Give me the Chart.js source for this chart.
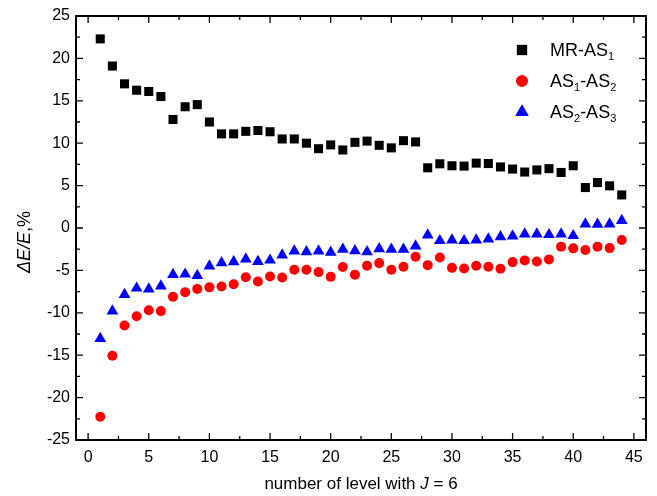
<!DOCTYPE html>
<html>
<head>
<meta charset="utf-8">
<script src="https://cdn.jsdelivr.net/npm/chart.js@4/dist/chart.umd.min.js"></script>
<style>
  html, body { margin: 0; padding: 0; background: #fff; }
  #wrap { width: 657px; height: 496px; }
</style>
</head>
<body>
<div id="wrap"><canvas id="deviation" width="657" height="496"></canvas></div>
<script>
// data ---------------------------------------------------------------------------
const levels = [1,2,3,4,5,6,7,8,9,10,11,12,13,14,15,16,17,18,19,20,21,22,
                23,24,25,26,27,28,29,30,31,32,33,34,35,36,37,38,39,40,41,42,43,44];
const mrAs1 = [22.3,19.1,17.0,16.25,16.1,15.5,12.8,14.3,14.55,12.5,
               11.1,11.1,11.4,11.5,11.35,10.5,10.5,10.0,9.35,9.8,
               9.2,10.1,10.25,9.75,9.45,10.3,10.15,7.1,7.57,7.34,
               7.3,7.65,7.6,7.2,6.95,6.6,6.85,7.0,6.55,7.34,
               4.77,5.36,4.97,3.9];
const as1As2 = [-22.25,-15.07,-11.5,-10.4,-9.7,-9.8,-8.1,-7.57,-7.18,-7.0,
                -6.9,-6.63,-5.8,-6.3,-5.72,-5.84,-4.93,-4.93,-5.2,-5.76,
                -4.6,-5.5,-4.46,-4.14,-4.93,-4.58,-3.39,-4.38,-3.47,-4.7,
                -4.77,-4.46,-4.58,-4.8,-4.02,-3.82,-3.94,-3.7,-2.2,-2.4,
                -2.6,-2.2,-2.37,-1.42];
const as2As3 = [-13.05,-9.8,-7.85,-7.1,-7.2,-6.86,-5.5,-5.45,-5.6,-4.5,
                -4.1,-4.0,-3.67,-3.95,-3.8,-3.2,-2.72,-2.8,-2.72,-2.88,
                -2.52,-2.68,-2.8,-2.45,-2.52,-2.52,-2.13,-0.83,-1.5,-1.42,
                -1.5,-1.42,-1.3,-1.03,-0.95,-0.71,-0.71,-0.79,-0.71,-0.91,
                0.47,0.43,0.47,0.87];
const seriesLabels = ['MR-AS_1', 'AS_1-AS_2', 'AS_2-AS_3'];
const xTicks = [0,5,10,15,20,25,30,35,40,45];
const yTicks = [-25,-20,-15,-10,-5,0,5,10,15,20,25];

const FONT = "'Liberation Sans', Arial, sans-serif";

function toPoints(ys) {
    return levels.map((x, i) => ({ x: x, y: ys[i] }));
}

// text with _n subscripts
function drawSubText(ctx, text, x, y, size) {
    const parts = text.split(/_(\d)/);
    let cx = x;
    parts.forEach((p, i) => {
        if (p === '') return;
        const sub = i % 2 === 1;
        ctx.font = (sub ? Math.round(size * 0.62) : size) + 'px ' + FONT;
        ctx.fillText(p, cx, sub ? y + size * 0.32 : y);
        cx += ctx.measureText(p).width;
    });
}

// frame, inward ticks, titles and legend
const framePlugin = {
    id: 'frame',
    afterDraw(chart) {
        const { ctx, chartArea: { left, right, top, bottom } } = chart;
        const xs = chart.scales.x, ys = chart.scales.y;
        ctx.save();
        ctx.strokeStyle = '#000';
        ctx.lineWidth = 2;
        ctx.strokeRect(left, top, right - left, bottom - top);
        ctx.lineWidth = 1.3;
        ctx.beginPath();
        for (let v = 0; v <= 45; v += 2.5) {
            const px = xs.getPixelForValue(v);
            const len = v % 5 === 0 ? 7 : 4;
            ctx.moveTo(px, bottom); ctx.lineTo(px, bottom - len);
            ctx.moveTo(px, top); ctx.lineTo(px, top + len);
        }
        for (let v = -25; v <= 25; v += 2.5) {
            const py = ys.getPixelForValue(v);
            const len = v % 5 === 0 ? 7 : 4;
            ctx.moveTo(left, py); ctx.lineTo(left + len, py);
            ctx.moveTo(right, py); ctx.lineTo(right - len, py);
        }
        ctx.stroke();

        // y title
        ctx.fillStyle = '#000';
        ctx.textBaseline = 'alphabetic';
        ctx.translate(30, (top + bottom) / 2 + 14);
        ctx.rotate(-Math.PI / 2);
        ctx.font = 'italic 18px ' + FONT;
        const it = '\u0394E/E';
        const wIt = ctx.measureText(it).width;
        ctx.font = '18px ' + FONT;
        const wR = ctx.measureText(',%').width;
        let sx = -(wIt + wR) / 2;
        ctx.font = 'italic 18px ' + FONT;
        ctx.fillText(it, sx, 0);
        ctx.font = '18px ' + FONT;
        ctx.fillText(',%', sx + wIt, 0);
        ctx.setTransform(1, 0, 0, 1, 0, 0);

        // x title
        const segs = [['number of level with ', ''], ['J', 'italic '], [' = 6', '']];
        let total = 0;
        segs.forEach(s => { ctx.font = s[1] + '17px ' + FONT; total += ctx.measureText(s[0]).width; });
        let tx = (left + right) / 2 - total / 2;
        segs.forEach(s => {
            ctx.font = s[1] + '17px ' + FONT;
            ctx.fillText(s[0], tx, 489);
            tx += ctx.measureText(s[0]).width;
        });

        // legend
        chart.data.datasets.forEach((ds, i) => {
            const ly = top + 34 + i * 31;
            const lx = right - 124;
            ctx.fillStyle = ds.backgroundColor;
            Chart.helpers.drawPoint(ctx, {
                pointStyle: ds.pointStyle, radius: ds.pointRadius + 0.8, rotation: 0, borderWidth: 0
            }, lx, ly);
            ctx.fill();
            ctx.fillStyle = '#000';
            ctx.textBaseline = 'middle';
            drawSubText(ctx, ds.label, lx + 28, ly + 1, 18);
        });
        ctx.restore();
    }
};

const deviationChart = new Chart(document.getElementById('deviation'), {
    type: 'scatter',
    data: {
        datasets: [
            { label: seriesLabels[0], data: toPoints(mrAs1), pointStyle: 'rect',
              backgroundColor: '#000000', borderColor: '#000000', borderWidth: 0, pointRadius: 6.4 },
            { label: seriesLabels[1], data: toPoints(as1As2), pointStyle: 'circle',
              backgroundColor: '#ff0000', borderColor: '#ff0000', borderWidth: 0, pointRadius: 5 },
            { label: seriesLabels[2], data: toPoints(as2As3), pointStyle: 'triangle',
              backgroundColor: '#0000ff', borderColor: '#0000ff', borderWidth: 0, pointRadius: 6.8 }
        ]
    },
    options: {
        responsive: false,
        animation: false,
        layout: { padding: { left: 0, right: 11, top: 16, bottom: 0 } },
        plugins: { legend: { display: false }, tooltip: { enabled: false } },
        scales: {
            x: {
                type: 'linear', min: -1, max: 46,
                afterBuildTicks: s => { s.ticks = xTicks.map(v => ({ value: v })); },
                afterFit: s => { s.height = 56; },
                grid: { display: false, drawTicks: false },
                border: { display: false },
                ticks: { color: '#000', padding: 8, font: { family: FONT, size: 16 }, maxRotation: 0 }
            },
            y: {
                type: 'linear', min: -25, max: 25,
                afterBuildTicks: s => { s.ticks = yTicks.map(v => ({ value: v })); },
                afterFit: s => { s.width = 76; },
                grid: { display: false, drawTicks: false },
                border: { display: false },
                ticks: { color: '#000', padding: 6, font: { family: FONT, size: 16 } }
            }
        }
    },
    plugins: [framePlugin]
});
</script>
</body>
</html>
